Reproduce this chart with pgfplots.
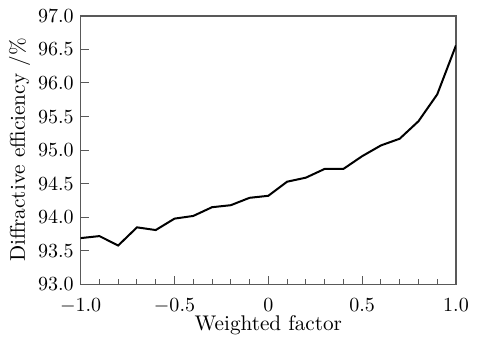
\documentclass[border=0pt]{standalone}
\usepackage{pgfplots}
\pgfplotsset{compat=1.18}
\begin{document}
\begin{tikzpicture}
\begin{axis}[
  scale only axis,
  width=187.5pt, height=134.2pt,
  xmin=-1, xmax=1, ymin=93, ymax=97,
  xtick={-1,-0.5,0,0.5,1},
  xticklabels={$-1.0$,$-0.5$,$0$,$0.5$,$1.0$},
  minor xtick={-0.9,-0.8,-0.7,-0.6,-0.4,-0.3,-0.2,-0.1,0.1,0.2,0.3,0.4,0.6,0.7,0.8,0.9},
  ytick={93,93.5,...,97},
  yticklabel style={/pgf/number format/fixed,/pgf/number format/precision=1,/pgf/number format/fixed zerofill},
  xticklabel style={yshift=-3.5pt},
  xtick pos=bottom, ytick pos=left,
  tick align=inside,
  major tick length=4pt, minor tick length=2.5pt,
  axis line style={draw=black!65, line width=0.7pt},
  tick style={draw=black!65, line width=0.5pt},
  xlabel={Weighted factor},
  ylabel={Diffractive efficiency /\%},
  xlabel style={yshift=5.5pt},
  ylabel style={yshift=-3pt},
  tick label style={font=\fontsize{10.4}{12}\selectfont},
  label style={font=\fontsize{10.6}{12}\selectfont},
]
\addplot[black, line width=1pt] coordinates {
(-1.0,93.69) (-0.9,93.72) (-0.8,93.58) (-0.7,93.85) (-0.6,93.81)
(-0.5,93.98) (-0.4,94.02) (-0.3,94.15) (-0.2,94.18) (-0.1,94.29)
(0.0,94.32) (0.1,94.53) (0.2,94.59) (0.3,94.72) (0.4,94.72)
(0.5,94.91) (0.6,95.07) (0.7,95.17) (0.8,95.43) (0.9,95.83) (1.0,96.56)
};
\end{axis}
\pgfresetboundingbox
\path ([shift={(-40.3pt,-26.5pt)}]current axis.south west) rectangle ([shift={(12pt,7.9pt)}]current axis.north east);
\end{tikzpicture}
\end{document}
